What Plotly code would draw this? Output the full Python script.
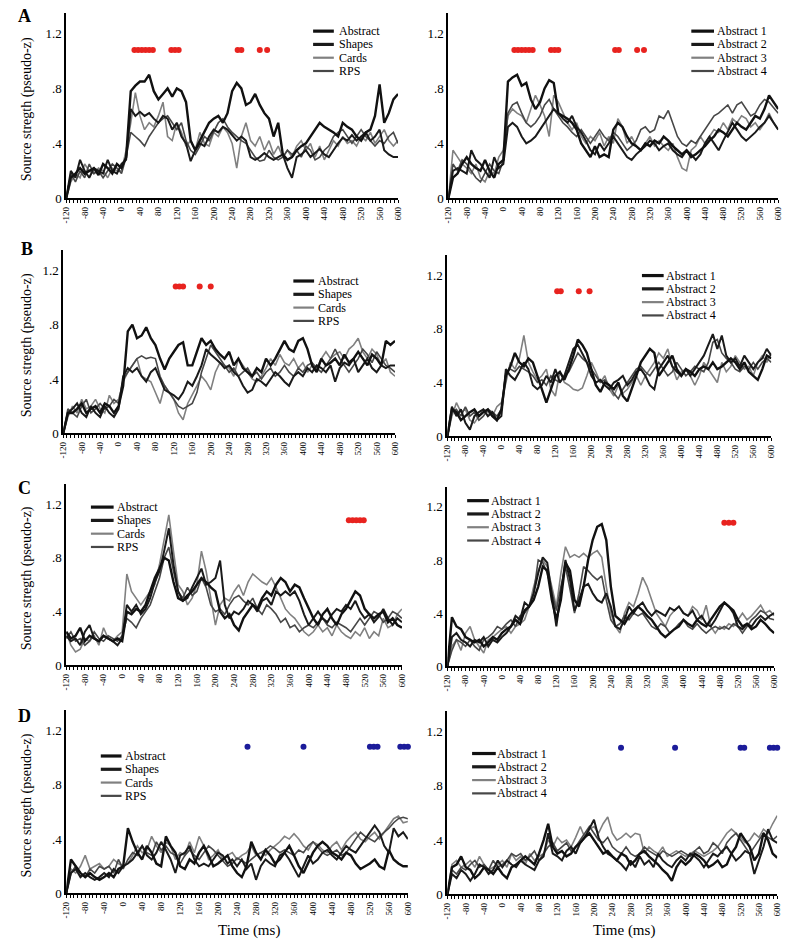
import plotly.graph_objects as go

# ---------------- data ----------------
TIME_MS = list(range(-120, 601, 10))
TICK_VALS = list(range(-120, 601, 40))
TICK_TEXT = [str(v) for v in TICK_VALS]
Y_TICK_VALS = [0, 0.4, 0.8, 1.2]
Y_TICK_TEXT = ["0", ".4", ".8", "1.2"]
SIG_LEVEL = 1.08

NAMES_LEFT = ["Abstract", "Shapes", "Cards", "RPS"]
NAMES_RIGHT = ["Abstract 1", "Abstract 2", "Abstract 3", "Abstract 4"]

# ---- Panel A, left ----
A_L_ABSTRACT = [0, .15, .18, .22, .18, .2, .22, .17, .25, .22, .18, .25,
                .22, .3, .78, .82, .85, .85, .9, .78, .72, .76, .8, .74,
                .8, .78, .7, .42, .35, .42, .48, .55, .58, .6, .55, .62,
                .78, .84, .8, .68, .7, .76, .68, .62, .58, .45, .55, .32,
                .28, .3, .35, .38, .4, .45, .5, .55, .52, .5, .48, .45,
                .55, .52, .5, .45, .42, .48, .5, .6, .83, .55, .62, .72,
                .76]
A_L_SHAPES = [0, .2, .15, .28, .2, .15, .22, .2, .18, .28, .2, .18,
              .25, .28, .65, .6, .63, .6, .62, .58, .55, .6, .58, .5,
              .55, .45, .4, .27, .35, .4, .38, .45, .5, .48, .52, .5,
              .46, .42, .45, .42, .3, .28, .3, .33, .3, .28, .3, .32,
              .22, .15, .3, .32, .35, .3, .33, .36, .32, .3, .35, .4,
              .44, .42, .46, .42, .45, .48, .42, .45, .5, .35, .32, .3,
              .3]
A_L_CARDS = [0, .12, .18, .15, .25, .2, .18, .22, .2, .15, .22, .2,
             .2, .35, .55, .77, .6, .5, .55, .52, .6, .7, .45, .42,
             .55, .48, .38, .42, .35, .48, .4, .38, .48, .45, .52, .48,
             .4, .22, .45, .55, .42, .38, .45, .35, .42, .32, .38, .3,
             .35, .3, .38, .42, .35, .4, .3, .38, .28, .35, .42, .38,
             .45, .4, .42, .38, .45, .42, .48, .4, .45, .5, .42, .38,
             .42]
A_L_RPS = [0, .18, .12, .2, .15, .25, .18, .2, .15, .2, .25, .22,
           .18, .3, .48, .45, .42, .38, .45, .5, .55, .58, .6, .55,
           .5, .55, .42, .35, .32, .38, .45, .42, .48, .55, .58, .52,
           .48, .45, .42, .4, .35, .3, .27, .28, .35, .3, .28, .3,
           .35, .32, .35, .3, .38, .35, .28, .3, .35, .38, .45, .48,
           .5, .45, .4, .45, .5, .45, .42, .38, .42, .4, .45, .48,
           .4]
A_L_SIG = [28, 36, 44, 52, 60, 68, 108, 116, 124, 252, 260, 300, 316]

# ---- Panel A, right ----
A_R_ABS1 = [0, .15, .18, .25, .3, .25, .22, .2, .28, .2, .15, .25,
            .28, .85, .88, .9, .82, .84, .72, .65, .7, .8, .86, .84,
            .62, .6, .58, .55, .5, .4, .35, .3, .38, .3, .32, .3,
            .5, .55, .52, .45, .4, .38, .35, .4, .38, .42, .4, .45,
            .42, .38, .35, .32, .35, .3, .32, .35, .38, .42, .45, .5,
            .48, .45, .5, .55, .52, .5, .55, .6, .58, .65, .75, .7,
            .65]
A_R_ABS2 = [0, .2, .22, .2, .18, .35, .28, .25, .2, .15, .3, .22,
            .25, .52, .55, .52, .45, .4, .42, .45, .5, .55, .6, .65,
            .62, .58, .55, .6, .52, .48, .42, .35, .32, .4, .35, .4,
            .45, .4, .35, .3, .28, .32, .35, .38, .42, .4, .35, .38,
            .4, .35, .32, .3, .35, .32, .28, .32, .4, .45, .4, .35,
            .42, .48, .55, .5, .45, .42, .45, .48, .52, .55, .6, .55,
            .5]
A_R_ABS3 = [0, .35, .3, .25, .22, .18, .25, .15, .12, .2, .18, .3,
            .35, .6, .65, .62, .6, .55, .65, .75, .68, .6, .45, .75,
            .7, .62, .55, .5, .55, .45, .4, .45, .42, .48, .38, .45,
            .4, .58, .52, .4, .45, .38, .35, .4, .45, .38, .42, .38,
            .35, .4, .3, .22, .2, .35, .38, .45, .4, .45, .5, .48,
            .55, .5, .58, .55, .6, .58, .52, .55, .5, .55, .62, .55,
            .5]
A_R_ABS4 = [0, .25, .2, .28, .25, .2, .15, .12, .18, .25, .2, .18,
            .28, .62, .68, .7, .62, .55, .52, .55, .6, .68, .72, .65,
            .6, .55, .52, .48, .45, .5, .45, .4, .45, .5, .45, .42,
            .48, .45, .4, .35, .38, .42, .5, .52, .48, .5, .6, .58,
            .64, .55, .45, .4, .38, .42, .4, .45, .5, .55, .6, .62,
            .65, .68, .62, .68, .7, .65, .6, .62, .68, .72, .7, .66,
            .62]
A_R_SIG = [24, 32, 40, 48, 56, 64, 104, 112, 120, 244, 252, 292, 307]

# ---- Panel B, left ----
B_L_ABSTRACT = [0, .15, .15, .18, .22, .15, .18, .2, .15, .22, .2, .15,
                .2, .35, .75, .8, .7, .72, .78, .7, .65, .55, .47, .55,
                .6, .65, .67, .5, .5, .6, .7, .65, .68, .62, .58, .55,
                .6, .5, .55, .48, .45, .42, .48, .45, .55, .5, .55, .62,
                .68, .62, .6, .68, .7, .62, .5, .45, .55, .5, .52, .55,
                .5, .58, .52, .55, .6, .55, .5, .58, .55, .5, .68, .65,
                .68]
B_L_SHAPES = [0, .15, .18, .22, .15, .12, .2, .15, .12, .2, .15, .12,
              .18, .42, .48, .45, .48, .42, .38, .45, .48, .4, .32, .3,
              .28, .25, .3, .38, .35, .42, .5, .62, .58, .55, .52, .48,
              .5, .45, .42, .35, .3, .32, .4, .38, .35, .4, .45, .42,
              .38, .35, .42, .45, .42, .48, .45, .5, .48, .45, .5, .38,
              .48, .52, .5, .55, .45, .5, .55, .48, .45, .5, .48, .5,
              .5]
B_L_CARDS = [0, .12, .2, .15, .25, .18, .2, .25, .18, .15, .28, .22,
             .25, .38, .45, .5, .55, .42, .4, .38, .3, .22, .35, .3,
             .25, .15, .1, .22, .28, .35, .42, .38, .32, .45, .52, .5,
             .48, .42, .55, .5, .45, .4, .38, .42, .48, .55, .5, .58,
             .52, .5, .55, .48, .52, .45, .5, .48, .55, .6, .55, .58,
             .6, .55, .62, .65, .7, .6, .55, .62, .58, .5, .55, .45,
             .42]
B_L_RPS = [0, .18, .15, .12, .2, .25, .15, .18, .22, .18, .2, .25,
           .22, .4, .45, .5, .55, .57, .55, .56, .55, .42, .35, .3,
           .25, .2, .18, .2, .22, .3, .45, .55, .65, .6, .55, .5,
           .45, .48, .42, .45, .48, .42, .45, .4, .45, .48, .42, .45,
           .5, .45, .42, .48, .45, .5, .52, .48, .45, .5, .55, .62,
           .55, .5, .45, .5, .55, .62, .58, .52, .6, .55, .5, .48,
           .45]
B_L_SIG = [124, 132, 140, 176, 200]

# ---- Panel B, right ----
B_R_ABS1 = [0, .2, .18, .12, .15, .18, .2, .15, .18, .2, .15, .12,
            .2, .45, .52, .62, .55, .52, .58, .55, .45, .35, .25, .35,
            .45, .48, .42, .5, .6, .72, .68, .62, .5, .38, .33, .4,
            .38, .35, .4, .3, .26, .35, .45, .55, .6, .65, .62, .45,
            .5, .55, .6, .5, .45, .5, .48, .45, .5, .52, .5, .55,
            .5, .52, .55, .58, .55, .5, .55, .48, .45, .42, .5, .6,
            .58]
B_R_ABS2 = [0, .22, .15, .2, .1, .05, .15, .18, .2, .15, .18, .12,
            .15, .5, .45, .42, .48, .55, .5, .38, .35, .38, .45, .4,
            .5, .4, .45, .55, .65, .68, .62, .55, .45, .4, .42, .38,
            .35, .4, .42, .45, .38, .42, .48, .5, .45, .38, .35, .5,
            .55, .6, .52, .48, .45, .5, .45, .5, .55, .6, .68, .76,
            .65, .75, .6, .55, .58, .52, .6, .55, .5, .55, .58, .65,
            .6]
B_R_ABS3 = [0, .15, .25, .18, .2, .12, .1, .15, .2, .18, .15, .22,
            .25, .4, .55, .5, .58, .75, .55, .48, .42, .45, .5, .35,
            .3, .48, .4, .38, .35, .34, .36, .45, .55, .48, .4, .45,
            .35, .3, .38, .32, .35, .4, .45, .38, .45, .5, .55, .62,
            .58, .65, .52, .42, .48, .5, .45, .38, .45, .55, .5, .45,
            .4, .55, .48, .52, .6, .55, .5, .52, .45, .55, .6, .55,
            .62]
B_R_ABS4 = [0, .18, .2, .15, .22, .15, .18, .12, .15, .2, .18, .15,
            .2, .48, .5, .48, .52, .5, .48, .45, .4, .42, .38, .45,
            .42, .4, .45, .48, .55, .62, .58, .55, .5, .45, .4, .42,
            .38, .32, .28, .35, .4, .45, .5, .52, .48, .45, .5, .55,
            .5, .45, .48, .55, .5, .45, .48, .52, .5, .48, .55, .7,
            .72, .62, .58, .55, .5, .48, .52, .5, .55, .5, .55, .58,
            .55]
B_R_SIG = [124, 132, 172, 196]

# ---- Panel C, left ----
C_L_ABSTRACT = [.25, .2, .22, .28, .18, .22, .2, .18, .22, .2, .18, .2,
                .18, .4, .38, .42, .4, .45, .55, .65, .72, .8, .78, .62,
                .5, .48, .52, .55, .6, .65, .62, .58, .55, .4, .35, .38,
                .3, .26, .35, .4, .45, .42, .5, .55, .52, .6, .65, .62,
                .55, .6, .58, .5, .42, .35, .3, .38, .42, .35, .3, .38,
                .42, .48, .55, .52, .42, .38, .35, .38, .4, .32, .35, .3,
                .28]
C_L_SHAPES = [.22, .18, .2, .15, .25, .3, .2, .18, .22, .2, .18, .15,
              .2, .45, .4, .45, .38, .42, .5, .62, .7, .85, 1.02, .75,
              .55, .48, .5, .58, .65, .72, .6, .62, .65, .78, .45, .35,
              .4, .38, .42, .48, .45, .4, .48, .5, .45, .55, .52, .55,
              .52, .55, .48, .38, .3, .35, .4, .35, .32, .38, .42, .4,
              .45, .42, .48, .4, .35, .38, .32, .36, .42, .35, .3, .35,
              .32]
C_L_CARDS = [.25, .15, .1, .12, .2, .18, .22, .15, .28, .2, .18, .22,
             .25, .68, .55, .5, .45, .5, .55, .6, .75, .95, 1.12, .85,
             .6, .55, .45, .5, .6, .85, .7, .5, .3, .45, .5, .48,
             .55, .6, .52, .62, .68, .65, .62, .6, .65, .58, .5, .42,
             .38, .35, .3, .25, .22, .25, .3, .25, .28, .22, .3, .25,
             .22, .2, .25, .22, .28, .2, .25, .22, .35, .28, .3, .38,
             .42]
C_L_RPS = [.2, .25, .18, .2, .15, .18, .25, .2, .18, .22, .2, .18,
           .22, .35, .32, .28, .35, .4, .45, .55, .65, .8, .88, .7,
           .55, .5, .58, .52, .55, .65, .58, .45, .4, .42, .38, .45,
           .5, .52, .48, .45, .5, .42, .38, .45, .42, .38, .32, .35,
           .28, .3, .25, .28, .3, .28, .32, .35, .3, .28, .32, .3,
           .28, .25, .3, .35, .3, .35, .4, .38, .32, .35, .4, .38,
           .35]
C_L_SIG = [486, 494, 502, 510, 518]

# ---- Panel C, right ----
C_R_ABS1 = [0, .37, .3, .28, .22, .2, .18, .2, .15, .18, .22, .2,
            .25, .28, .3, .35, .32, .42, .45, .5, .6, .75, .72, .5,
            .35, .5, .78, .72, .5, .45, .6, .8, .95, 1.05, 1.07, .95,
            .6, .38, .35, .32, .38, .42, .45, .42, .38, .35, .3, .25,
            .22, .25, .28, .3, .35, .32, .3, .35, .32, .3, .35, .4,
            .45, .48, .45, .42, .35, .3, .32, .28, .3, .35, .32, .28,
            .25]
C_R_ABS2 = [0, .22, .25, .2, .18, .15, .2, .18, .22, .15, .2, .18,
            .22, .25, .3, .38, .35, .48, .45, .55, .7, .82, .78, .55,
            .3, .55, .8, .65, .42, .5, .6, .62, .55, .5, .48, .55,
            .45, .3, .28, .35, .45, .4, .45, .48, .42, .38, .42, .4,
            .38, .44, .42, .45, .4, .38, .42, .35, .38, .32, .3, .35,
            .42, .48, .45, .4, .3, .28, .32, .3, .35, .38, .35, .38,
            .4]
C_R_ABS3 = [0, .15, .2, .12, .25, .3, .2, .15, .1, .2, .22, .25,
            .28, .3, .25, .3, .32, .35, .45, .6, .72, .8, .75, .6,
            .45, .7, .9, .82, .84, .82, .85, .82, .85, .87, .82, .6,
            .4, .3, .25, .4, .48, .45, .55, .67, .6, .5, .4, .35,
            .3, .38, .42, .45, .4, .38, .45, .42, .35, .46, .3, .25,
            .3, .28, .32, .3, .35, .4, .35, .38, .42, .46, .4, .42,
            .38]
C_R_ABS4 = [0, .12, .2, .18, .15, .2, .15, .12, .2, .22, .25, .3,
            .28, .32, .35, .3, .38, .4, .45, .55, .8, .78, .7, .55,
            .42, .6, .75, .58, .4, .55, .75, .72, .68, .65, .68, .5,
            .35, .3, .32, .38, .35, .4, .38, .4, .35, .3, .28, .32,
            .3, .25, .28, .32, .35, .3, .28, .32, .28, .25, .28, .3,
            .28, .3, .28, .32, .3, .25, .3, .35, .38, .42, .4, .36,
            .35]
C_R_SIG = [490, 500, 510]

# ---- Panel D, left ----
D_L_ABSTRACT = [0, .25, .2, .15, .12, .15, .12, .1, .12, .15, .12, .18,
                .2, .48, .38, .3, .25, .35, .3, .22, .2, .42, .35, .3,
                .2, .18, .25, .22, .3, .35, .28, .2, .22, .25, .28, .2,
                .15, .12, .2, .38, .3, .25, .32, .28, .22, .25, .3, .35,
                .28, .2, .15, .22, .3, .35, .38, .35, .3, .28, .25, .3,
                .28, .22, .18, .2, .22, .25, .2, .18, .32, .25, .22, .2,
                .2]
D_L_SHAPES = [0, .15, .18, .12, .15, .12, .1, .12, .15, .12, .18, .15,
              .2, .22, .25, .3, .35, .28, .25, .3, .38, .32, .25, .15,
              .28, .3, .35, .25, .2, .22, .2, .25, .3, .28, .22, .25,
              .2, .25, .18, .22, .1, .2, .25, .22, .2, .28, .3, .25,
              .18, .12, .2, .28, .22, .25, .3, .32, .28, .25, .3, .35,
              .32, .3, .35, .4, .45, .5, .45, .35, .3, .48, .42, .45,
              .4]
D_L_CARDS = [0, .18, .15, .2, .28, .18, .2, .22, .18, .2, .25, .22,
             .2, .22, .28, .35, .3, .32, .42, .35, .3, .38, .35, .25,
             .3, .28, .38, .3, .42, .35, .25, .28, .32, .25, .28, .3,
             .25, .28, .3, .35, .28, .3, .28, .32, .35, .38, .42, .4,
             .44, .4, .35, .32, .38, .36, .32, .3, .35, .38, .32, .38,
             .42, .45, .4, .38, .42, .45, .4, .45, .5, .55, .57, .52,
             .53]
D_L_RPS = [0, .15, .2, .15, .12, .18, .15, .2, .18, .2, .15, .25,
           .18, .25, .3, .28, .35, .3, .28, .38, .32, .35, .3, .28,
           .22, .28, .32, .28, .25, .3, .35, .32, .28, .24, .2, .22,
           .26, .24, .22, .25, .28, .3, .32, .35, .33, .3, .32, .3,
           .28, .32, .3, .35, .38, .34, .3, .28, .3, .32, .28, .3,
           .35, .4, .45, .42, .4, .38, .42, .45, .48, .52, .55, .56,
           .55]
D_L_SIG = [262, 380, 520, 528, 536, 584, 592, 600]

# ---- Panel D, right ----
D_R_ABS1 = [0, .2, .22, .28, .2, .18, .12, .15, .2, .18, .15, .2,
            .15, .12, .2, .22, .25, .28, .25, .22, .3, .4, .52, .35,
            .3, .32, .28, .3, .35, .38, .42, .45, .4, .35, .3, .32,
            .28, .25, .3, .28, .22, .25, .3, .32, .28, .25, .22, .18,
            .15, .1, .2, .25, .22, .25, .3, .28, .25, .2, .22, .25,
            .2, .22, .3, .35, .45, .4, .35, .25, .3, .45, .4, .3,
            .27]
D_R_ABS2 = [0, .15, .12, .18, .15, .1, .15, .22, .2, .15, .18, .25,
            .2, .25, .22, .2, .25, .22, .2, .18, .25, .28, .45, .3,
            .28, .25, .32, .35, .3, .38, .42, .48, .55, .42, .35, .3,
            .28, .25, .22, .18, .25, .2, .28, .22, .25, .2, .3, .25,
            .22, .2, .25, .28, .25, .3, .28, .25, .2, .25, .3, .28,
            .32, .35, .3, .25, .28, .32, .3, .15, .25, .35, .48, .4,
            .38]
D_R_ABS3 = [0, .22, .25, .2, .22, .25, .2, .28, .22, .18, .2, .22,
            .25, .2, .3, .25, .28, .22, .3, .25, .28, .3, .4, .35,
            .42, .38, .4, .35, .42, .5, .42, .48, .5, .45, .52, .57,
            .45, .4, .42, .45, .42, .45, .44, .3, .35, .32, .3, .35,
            .28, .3, .32, .3, .28, .3, .32, .3, .28, .3, .32, .35,
            .4, .45, .48, .45, .42, .38, .4, .45, .42, .48, .45, .52,
            .58]
D_R_ABS4 = [0, .18, .15, .2, .18, .22, .25, .2, .22, .18, .25, .2,
            .22, .25, .3, .28, .3, .25, .28, .32, .25, .3, .35, .38,
            .32, .35, .38, .32, .35, .4, .45, .5, .45, .4, .38, .42,
            .35, .32, .3, .35, .3, .28, .3, .35, .32, .3, .28, .32,
            .3, .28, .3, .32, .3, .28, .32, .35, .3, .32, .38, .35,
            .3, .38, .42, .45, .4, .35, .3, .35, .4, .45, .42, .4,
            .43]
D_R_SIG = [259, 377, 520, 528, 584, 592, 600]

# ---------------- layout helpers ----------------
W, H = 800, 952
FONT = "Liberation Serif"
RED = "#e8231f"
BLUE = "#1c1c9a"
LEG_FONT = 12
LEG_STEP = 13.4


def px(x):
    return x / W


def py(y):
    return 1 - y / H


STYLE_COLORS = ["#111111", "#1a1a1a", "#808080", "#474747"]
STYLE_WIDTHS = [2.4, 2.0, 1.6, 1.6]
LEG_WIDTHS = [3.2, 3.2, 2.2, 2.2]

panels = [
    dict(series=[A_L_ABSTRACT, A_L_SHAPES, A_L_CARDS, A_L_RPS], names=NAMES_LEFT,
         sig=A_L_SIG, sigcolor=RED, box=(62, 398, 13, 200),
         leg=(312, 333, 337, 51.5), letter=("A", 20, 16)),
    dict(series=[A_R_ABS1, A_R_ABS2, A_R_ABS3, A_R_ABS4], names=NAMES_RIGHT,
         sig=A_R_SIG, sigcolor=RED, box=(449, 783, 13, 200),
         leg=(695, 718, 720, 51.5), letter=None),
    dict(series=[B_L_ABSTRACT, B_L_SHAPES, B_L_CARDS, B_L_RPS], names=NAMES_LEFT,
         sig=B_L_SIG, sigcolor=RED, box=(59, 395, 252, 437),
         leg=(292, 313, 316, 303.5), letter=("B", 22, 251)),
    dict(series=[B_R_ABS1, B_R_ABS2, B_R_ABS3, B_R_ABS4], names=NAMES_RIGHT,
         sig=B_R_SIG, sigcolor=RED, box=(448, 776, 257, 440),
         leg=(645, 667, 668, 298), letter=None),
    dict(series=[C_L_ABSTRACT, C_L_SHAPES, C_L_CARDS, C_L_RPS], names=NAMES_LEFT,
         sig=C_L_SIG, sigcolor=RED, box=(62, 402, 488, 671),
         leg=(87, 110, 112, 531.5), letter=("C", 20, 492)),
    dict(series=[C_R_ABS1, C_R_ABS2, C_R_ABS3, C_R_ABS4], names=NAMES_RIGHT,
         sig=C_R_SIG, sigcolor=RED, box=(448, 779, 491, 672),
         leg=(468, 490, 491, 525), letter=None),
    dict(series=[D_L_ABSTRACT, D_L_SHAPES, D_L_CARDS, D_L_RPS], names=NAMES_LEFT,
         sig=D_L_SIG, sigcolor=BLUE, box=(62, 408, 716, 901),
         leg=(97, 118, 121, 782.5), letter=("D", 20, 722)),
    dict(series=[D_R_ABS1, D_R_ABS2, D_R_ABS3, D_R_ABS4], names=NAMES_RIGHT,
         sig=D_R_SIG, sigcolor=BLUE, box=(448, 782, 717, 902),
         leg=(473, 497, 497, 780), letter=None),
]

fig = go.Figure()
layout = dict(width=W, height=H, margin=dict(l=0, r=0, t=0, b=0),
              paper_bgcolor="white", plot_bgcolor="white", showlegend=False,
              font=dict(family=FONT, color="black"))
shapes = []
annotations = []

for k, p in enumerate(panels, start=1):
    xa = "x" if k == 1 else f"x{k}"
    ya = "y" if k == 1 else f"y{k}"
    x0, x1, y0, y1 = p["box"]
    layout["xaxis" if k == 1 else f"xaxis{k}"] = dict(
        domain=[px(x0), px(x1)], anchor=ya, range=[-120, 600],
        showgrid=False, zeroline=False, showline=True, linecolor="black", linewidth=2,
        ticks="outside", ticklen=3, tickwidth=1, tickcolor="black",
        tickvals=TICK_VALS, ticktext=TICK_TEXT, tickangle=-90,
        tickfont=dict(family=FONT, size=9, color="black"),
        minor=dict(dtick=8, tick0=-120, ticks="outside", ticklen=3, tickwidth=1, tickcolor="black"),
    )
    layout["yaxis" if k == 1 else f"yaxis{k}"] = dict(
        domain=[py(y1), py(y0)], anchor=xa, range=[0, 1.35],
        showgrid=False, zeroline=False, showline=True, linecolor="black", linewidth=2,
        ticks="", tickvals=Y_TICK_VALS, ticktext=Y_TICK_TEXT,
        tickfont=dict(family=FONT, size=13, color="black"),
    )
    for i in [2, 3, 1, 0]:
        fig.add_trace(go.Scatter(
            x=TIME_MS, y=p["series"][i], mode="lines", name=p["names"][i],
            line=dict(color=STYLE_COLORS[i], width=STYLE_WIDTHS[i]),
            xaxis=xa, yaxis=ya, hoverinfo="skip"))
    fig.add_trace(go.Scatter(
        x=p["sig"], y=[SIG_LEVEL] * len(p["sig"]), mode="markers",
        marker=dict(color=p["sigcolor"], size=6, line=dict(width=0)),
        xaxis=xa, yaxis=ya, cliponaxis=False, hoverinfo="skip"))
    lx0, lx1, tx, cy = p["leg"]
    for i in range(4):
        ry = cy + (i - 1.5) * LEG_STEP
        shapes.append(dict(type="line", xref="paper", yref="paper",
                           x0=px(lx0), x1=px(lx1), y0=py(ry), y1=py(ry),
                           line=dict(color=STYLE_COLORS[i], width=LEG_WIDTHS[i])))
        annotations.append(dict(xref="paper", yref="paper", x=px(tx), y=py(ry),
                                xanchor="left", yanchor="middle", showarrow=False,
                                borderpad=0, text=p["names"][i],
                                font=dict(family=FONT, size=LEG_FONT)))
    if p["letter"]:
        t, lxp, lyp = p["letter"]
        annotations.append(dict(xref="paper", yref="paper", x=px(lxp), y=py(lyp),
                                xanchor="center", yanchor="middle", showarrow=False,
                                text=f"<b>{t}</b>", font=dict(family=FONT, size=18)))
        annotations.append(dict(xref="paper", yref="paper", x=px(22), y=py((y0 + y1) / 2 + 4),
                                xanchor="center", yanchor="middle", showarrow=False, textangle=-90,
                                text="Source stregth (pseudo-z)", font=dict(family=FONT, size=14)))

for tx in (247, 627):
    annotations.append(dict(xref="paper", yref="paper", x=px(tx), y=py(938), xanchor="center",
                            yanchor="middle", showarrow=False, text="Time (ms)",
                            font=dict(family=FONT, size=15)))

layout["shapes"] = shapes
layout["annotations"] = annotations
fig.update_layout(**layout)
fig.write_html("out.html", config={"displayModeBar": False},
               post_script="document.body.style.margin='0';document.body.style.padding='0';")
